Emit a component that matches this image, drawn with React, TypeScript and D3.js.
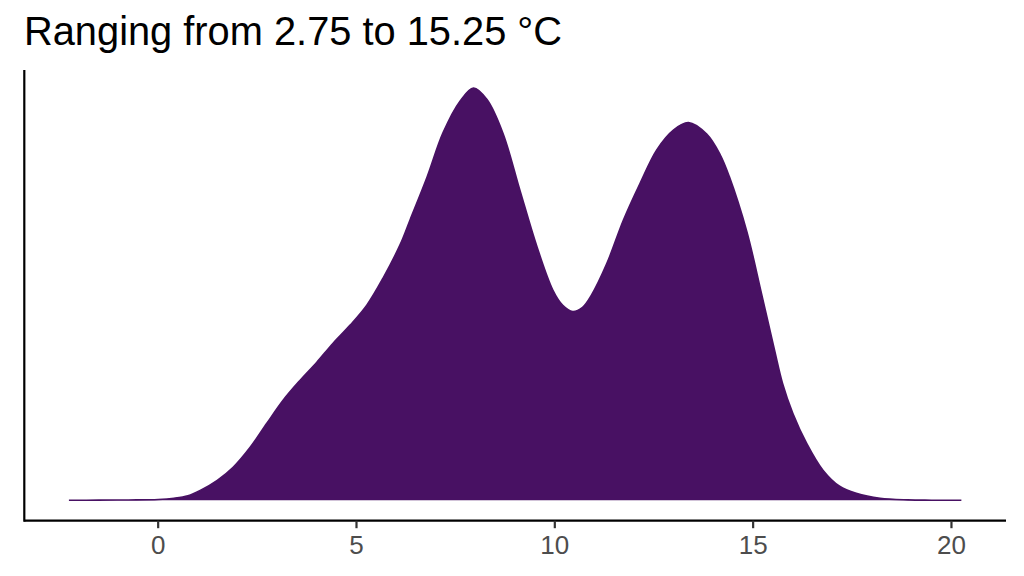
import React from "react";
import * as d3 from "d3";

const title = "Ranging from 2.75 to 15.25 °C";
const temperature = [-2.25, -1.5, -0.75, 0, 0.4, 0.75, 1.06, 1.49, 1.89, 2.32, 2.74, 3.15, 3.58, 4.0, 4.41, 4.84, 5.26, 5.67, 6.1, 6.35, 6.78, 7.18, 7.61, 7.95, 8.29, 8.69, 9.12, 9.55, 9.95, 10.2, 10.45, 10.7, 10.92, 11.31, 11.73, 12.15, 12.57, 12.99, 13.37, 13.83, 14.17, 14.4, 14.84, 15.21, 15.54, 15.74, 16.0, 16.35, 16.76, 17.18, 17.6, 18.2, 18.9, 19.5, 20.25];
const height = [0, 0.0004, 0.0009, 0.002, 0.005, 0.011, 0.024, 0.0485, 0.0801, 0.1286, 0.1869, 0.2427, 0.2913, 0.335, 0.381, 0.4248, 0.4733, 0.539, 0.62, 0.68, 0.784, 0.891, 0.968, 1.0, 0.972, 0.891, 0.752, 0.615, 0.51, 0.473, 0.458, 0.468, 0.497, 0.574, 0.68, 0.769, 0.85, 0.898, 0.916, 0.888, 0.838, 0.785, 0.652, 0.502, 0.364, 0.284, 0.211, 0.138, 0.073, 0.034, 0.017, 0.005, 0.001, 0.0003, 0];
const xTicks = [0, 5, 10, 15, 20];

const W = 1024;
const H = 576;
const FILL = "#481163";

export default function App() {
  const x = d3.scaleLinear().domain([-3.375, 21.375]).range([24.3, 1006]);
  const y = d3.scaleLinear().domain([0, 1]).range([500.3, 88]);
  const pts = temperature.map((t, i) => [t, height[i]] as [number, number]);
  const curve = d3.curveCatmullRom.alpha(0.5);
  const area = d3
    .area<[number, number]>()
    .x((d) => x(d[0]))
    .y0(y(0))
    .y1((d) => Math.min(y(0), y(d[1])))
    .curve(curve);
  const line = d3
    .line<[number, number]>()
    .x((d) => x(d[0]))
    .y((d) => y(d[1]))
    .curve(curve);
  const axisY = 520.7;
  return (
    <svg
      width={W}
      height={H}
      style={{ position: "absolute", left: 0, top: 0, background: "#fff" }}
      fontFamily="'Liberation Sans', Arial, sans-serif"
    >
      <text x={24} y={45} fontSize={39.8} fill="#000">
        {title}
      </text>
      <path d={area(pts) || ""} fill={FILL} />
      <path d={line(pts) || ""} fill="none" stroke={FILL} strokeWidth={1.6} />
      <line x1={24.3} x2={1006} y1={axisY} y2={axisY} stroke="#000" strokeWidth={2.2} />
      <line x1={24.3} x2={24.3} y1={70} y2={axisY + 1.1} stroke="#000" strokeWidth={2.2} />
      {xTicks.map((t) => (
        <g key={t}>
          <line x1={x(t)} x2={x(t)} y1={axisY} y2={axisY + 7.5} stroke="#333" strokeWidth={2.2} />
          <text x={x(t)} y={554} textAnchor="middle" fontSize={26} fill="#4D4D4D">
            {t}
          </text>
        </g>
      ))}
    </svg>
  );
}
